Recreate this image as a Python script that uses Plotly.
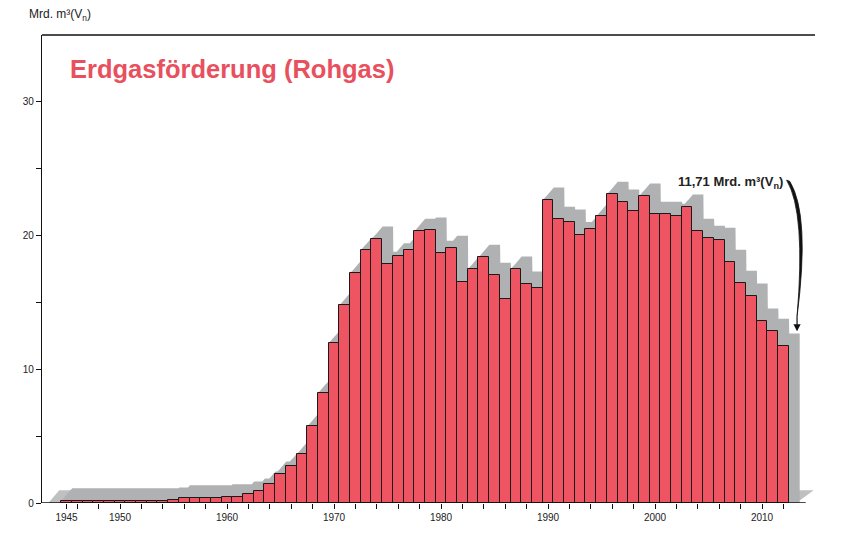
import numpy as np
import plotly.graph_objects as go

# ---- data -------------------------------------------------------------
years = list(range(1945, 2013))
production = [
    0.15, 0.15, 0.15, 0.15, 0.15, 0.15, 0.15, 0.15, 0.15, 0.15,   # 1945-1954
    0.20, 0.37, 0.37, 0.37, 0.37, 0.45, 0.45, 0.65, 0.87, 1.40,   # 1955-1964
    2.14, 2.74, 3.63, 5.72, 8.19, 11.92, 14.75, 17.14, 18.86, 19.68,  # 1965-1974
    17.81, 18.43, 18.86, 20.27, 20.35, 18.63, 19.00, 16.52, 17.44, 18.33,  # 1975-1984
    16.99, 15.20, 17.44, 16.32, 16.02, 22.59, 21.17, 20.95, 20.02, 20.42,  # 1985-1994
    21.39, 23.03, 22.44, 21.77, 22.89, 21.54, 21.54, 21.39, 22.07, 20.27,  # 1995-2004
    19.75, 19.60, 17.96, 16.39, 15.43, 13.56, 12.81, 11.71,               # 2005-2012
]
x_label_vals = [1945, 1950, 1960, 1970, 1980, 1990, 2000, 2010]
x_label_text = [str(v) for v in x_label_vals]
x_minor_vals = list(range(1946, 2013, 2))
y_label_vals = [0, 10, 20, 30]
y_label_text = ["0", "10", "20", "30"]
y_minor_vals = [5, 15, 25]
title_text = "Erdgasförderung (Rohgas)"
unit_text = "Mrd. m³(V<sub>n</sub>)"
last_label = "11,71 Mrd. m³(V<sub>n</sub>)"

# ---- styling ----------------------------------------------------------
BAR = "#ef5462"
TITLE = "#e8505d"
SHADOW = "#b0b1b3"
FLOOR = "#bfc0c2"
DX, DY = 1.03, 0.95          # 3D extrusion vector (data units)

# ---- shadow envelope (extruded silhouette) ----------------------------
xs = np.arange(years[0] - 0.5, years[-1] + 0.5 + DX + 0.001, 0.02)
env = np.full(xs.shape, -np.inf)
for yr, h in zip(years, production):
    xl, xr = yr - 0.5, yr + 0.5
    m = (xs >= xl) & (xs <= xr + DX)
    env[m] = np.maximum(env[m], h + DY * np.minimum(1.0, (xs[m] - xl) / DX))
env[~np.isfinite(env)] = 0
shadow_x = np.concatenate([[xs[0]], xs, [xs[-1]]])
shadow_y = np.concatenate([[0], env, [0]])
shadow_path = "M " + " L ".join(f"{a:.3f},{b:.3f}" for a, b in zip(shadow_x, shadow_y)) + " Z"

floor_left = years[0] - 1.7
floor_right = years[-1] + 1.2
floor_path = (f"M {floor_left},0 L {floor_left + DX},{DY} L {floor_right + DX + 0.6},{DY} "
              f"L {floor_right},0 Z")

fig = go.Figure()
fig.add_trace(go.Bar(x=years, y=production, width=1.0,
                     marker=dict(color=BAR, line=dict(color="#1a1a1a", width=1))))

# ---- curved arrow to last value --------------------------------------
tip_x = years[-1] + 0.5 + 0.75 * DX
tip_y = production[-1] + DY + 0.15
p0 = (2012.6, 24.0)
c = (2014.5, 21.5)
p1 = (tip_x, tip_y + 1.1)
c2 = (2014.1, 21.7)
p0b = (2012.3, 24.1)
arrow_path = (f"M {p0[0]},{p0[1]} Q {c[0]},{c[1]} {p1[0]},{p1[1]} "
              f"Q {c2[0]},{c2[1]} {p0b[0]},{p0b[1]} Z")

tick_style = dict(ticks="outside", ticklen=5, tickwidth=1, tickcolor="#111")

fig.update_layout(
    width=835, height=533,
    margin=dict(l=34, r=28, t=27, b=38),
    paper_bgcolor="white", plot_bgcolor="white",
    showlegend=False, bargap=0,
    font=dict(family="Liberation Sans, Arial, sans-serif", color="#222", size=10),
    xaxis=dict(range=[1942.71, 2014.95], tickmode="array", tickvals=x_label_vals,
               ticktext=x_label_text, **tick_style,
               minor=dict(tickmode="array", tickvals=x_minor_vals, **tick_style, showgrid=False),
               showgrid=False, zeroline=False, showline=False,
               tickfont=dict(size=10, color="#222")),
    yaxis=dict(range=[0, 34.93], tickmode="array", tickvals=y_label_vals,
               ticktext=y_label_text, **tick_style,
               minor=dict(tickmode="array", tickvals=y_minor_vals, **tick_style, showgrid=False),
               showgrid=False, zeroline=False, showline=True, linecolor="#111",
               linewidth=1.3, tickfont=dict(size=10, color="#222")),
    shapes=[
        dict(type="path", xref="x", yref="y", path=floor_path, layer="below",
             fillcolor=FLOOR, line=dict(width=0)),
        dict(type="path", xref="x", yref="y", path=shadow_path, layer="below",
             fillcolor=SHADOW, line=dict(width=0)),
        dict(type="line", xref="paper", yref="paper", x0=0, x1=1, y0=1, y1=1,
             line=dict(color="#111", width=1.3)),
        dict(type="line", xref="paper", yref="y", x0=0, x1=0.988, y0=0, y1=0,
             line=dict(color="#111", width=1.3)),
        dict(type="path", xref="x", yref="y", path=arrow_path,
             fillcolor="#111", line=dict(color="#111", width=0.8)),
    ],
    annotations=[
        dict(text=f"<b>{title_text}</b>", xref="paper", yref="paper", x=0.034, y=0.928,
             xanchor="left", yanchor="middle", showarrow=False,
             font=dict(size=25.5, color=TITLE, family="Liberation Sans, Arial, sans-serif")),
        dict(text=unit_text, xref="paper", yref="paper", x=-0.02, y=1.043,
             xanchor="left", yanchor="middle", showarrow=False,
             font=dict(size=12, color="#222")),
        dict(text=f"<b>{last_label}</b>", xref="x", yref="y", x=2012.15, y=23.9,
             xanchor="right", yanchor="middle", showarrow=False,
             font=dict(size=13, color="#222")),
        dict(text="", xref="x", yref="y", x=tip_x, y=tip_y, ax=0, ay=-16,
             showarrow=True, arrowhead=2, arrowsize=1.2, arrowwidth=1.2,
             arrowcolor="#111"),
    ],
)

fig.write_html("out.html")
